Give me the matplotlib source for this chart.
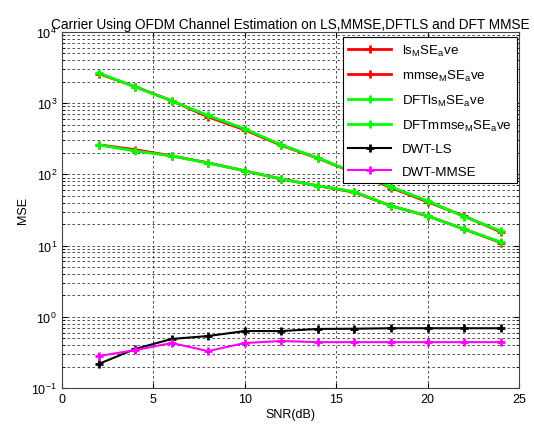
import numpy as np
import matplotlib.pyplot as plt

plt.rcParams['font.family'] = ['Liberation Sans', 'DejaVu Sans']
plt.rcParams['mathtext.fontset'] = 'custom'
plt.rcParams['mathtext.rm'] = 'Liberation Sans'

snr = [2, 4, 6, 8, 10, 12, 14, 16, 18, 20, 22, 24]

ls_mse = [2600, 1700, 1080, 640, 420, 255, 168, 105, 65, 41, 26, 15.5]
mmse_mse = [260, 222, 182, 145, 112, 86, 69, 56, 36, 26, 17, 11.0]
dft_ls_mse = [2650, 1690, 1075, 670, 435, 259, 170, 106, 66.5, 42.3, 25.5, 16.0]
dft_mmse_mse = [259, 213, 181, 144, 112, 86, 69, 57, 36, 26, 17, 11.2]
dwt_ls = [0.217, 0.353, 0.488, 0.537, 0.63, 0.63, 0.675, 0.68, 0.69, 0.69, 0.69, 0.69]
dwt_mmse = [0.281, 0.34, 0.428, 0.33, 0.428, 0.457, 0.44, 0.44, 0.44, 0.44, 0.44, 0.44]

labels = [r'ls$_{\mathrm{M}}$SE$_{\mathrm{a}}$ve',
          r'mmse$_{\mathrm{M}}$SE$_{\mathrm{a}}$ve',
          r'DFTls$_{\mathrm{M}}$SE$_{\mathrm{a}}$ve',
          r'DFTmmse$_{\mathrm{M}}$SE$_{\mathrm{a}}$ve',
          'DWT-LS', 'DWT-MMSE']

fig = plt.figure(figsize=(5.34, 4.27), dpi=100)
ax = fig.add_axes([0.116, 0.089, 0.856, 0.834])

kw = dict(marker='+', markersize=6, markeredgewidth=2)
ax.semilogy(snr, ls_mse, color='red', linewidth=2, label=labels[0], **kw)
ax.semilogy(snr, mmse_mse, color='red', linewidth=2, label=labels[1], **kw)
ax.semilogy(snr, dft_ls_mse, color='#00ff00', linewidth=2, label=labels[2], **kw)
ax.semilogy(snr, dft_mmse_mse, color='#00ff00', linewidth=2, label=labels[3], **kw)
ax.semilogy(snr, dwt_ls, color='black', linewidth=1.5, label=labels[4], **kw)
ax.semilogy(snr, dwt_mmse, color='magenta', linewidth=1.5, label=labels[5], **kw)

ax.set_xlim(0, 25)
ax.set_ylim(0.1, 1e4)
ax.set_xticks([0, 5, 10, 15, 20, 25])
ax.grid(True, which='major', linestyle=(0, (3, 3)), color='#333333', linewidth=0.6)
ax.grid(True, which='minor', axis='y', linestyle=(0, (3, 3)), color='#333333', linewidth=0.6)
ax.tick_params(which='both', direction='in', top=True, right=True, labelsize=9)
for s in ax.spines.values():
    s.set_color('#444444')

ax.set_xlabel('SNR(dB)', fontsize=9, labelpad=2)
ax.set_ylabel('MSE', fontsize=9, labelpad=2)
ax.set_title('Carrier Using OFDM Channel Estimation on LS,MMSE,DFTLS and DFT MMSE',
             fontsize=9.8, pad=3)

leg = ax.legend(loc='upper right', fontsize=9.6, fancybox=False, framealpha=1,
                edgecolor='black', handlelength=3.2, labelspacing=0.75,
                bbox_to_anchor=(0.995, 0.985), borderaxespad=0.0)
leg.get_frame().set_linewidth(0.8)

fig.savefig('out.png', dpi=100)
